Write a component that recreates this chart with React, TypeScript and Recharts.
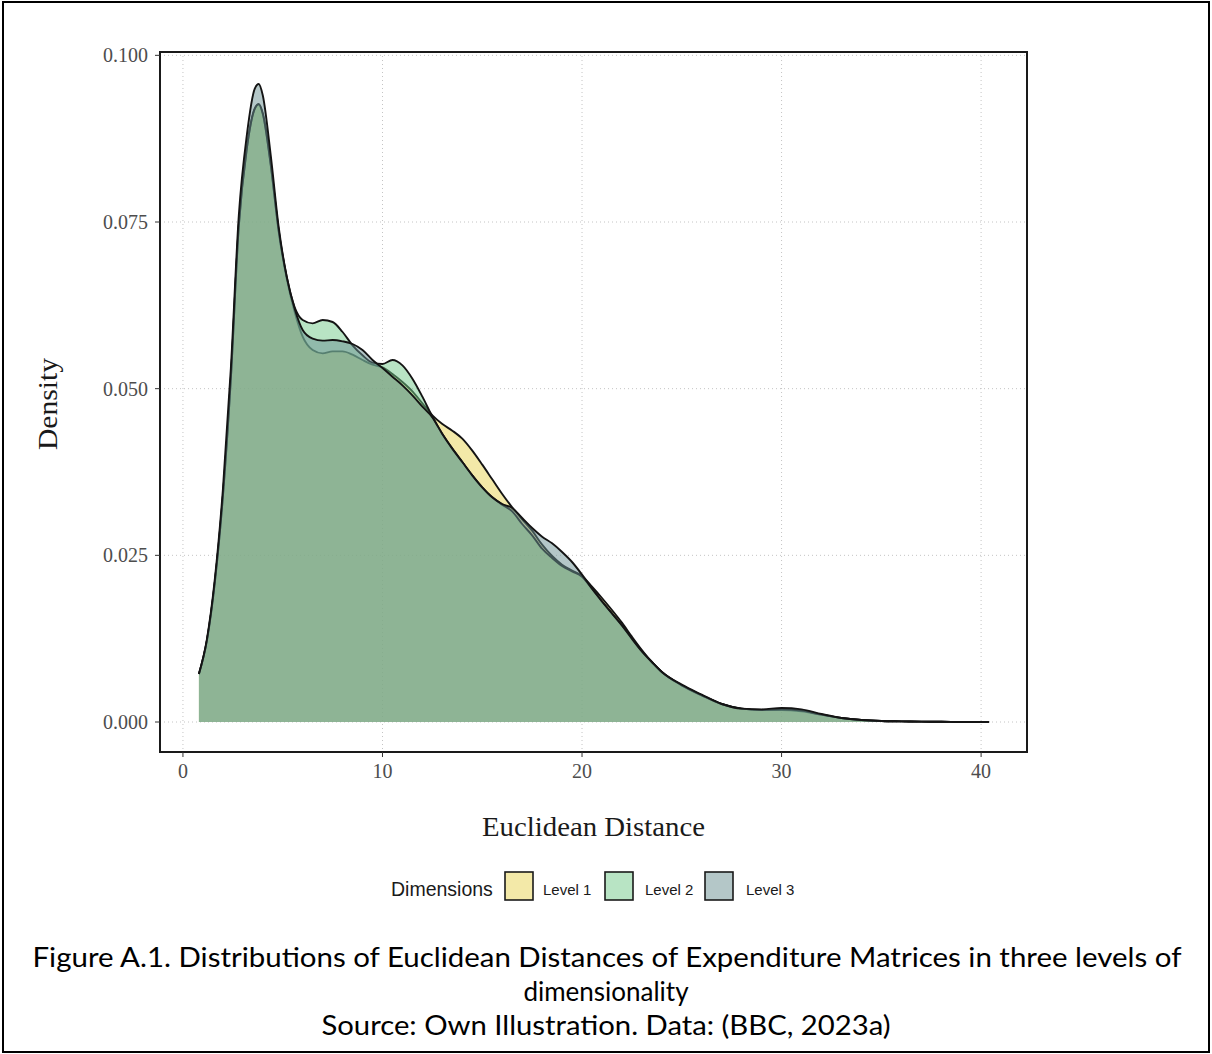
import React from "react";
import { AreaChart, Area, XAxis, YAxis, CartesianGrid, ReferenceArea } from "recharts";

// density estimates (x = Euclidean distance)
const distance = [
  0.8, 1.2, 1.6, 2.0, 2.4, 2.8, 3.2, 3.6, 3.8, 4.0,
  4.4, 4.8, 5.2, 5.6, 6.0, 6.5, 7.0, 7.5, 8.0, 8.5,
  9.0, 9.5, 10.0, 10.5, 11.0, 11.5, 12.0, 12.5, 13.0, 13.5,
  14.0, 14.5, 15.0, 15.5, 16.0, 16.5, 17.0, 17.5, 18.0, 18.5,
  19.0, 19.5, 20.0, 20.5, 21.0, 21.5, 22.0, 22.5, 23.0, 23.5,
  24, 25, 26, 27, 28, 29, 30, 31, 32, 33,
  34, 35, 36, 37, 38, 39, 40.4,
];

const level1 = [
  0.0072, 0.0122, 0.021, 0.0338, 0.0515, 0.0745, 0.086, 0.092, 0.0926, 0.0912,
  0.0835, 0.0735, 0.0665, 0.0615, 0.0578, 0.0558, 0.0553, 0.0556, 0.0556, 0.0551,
  0.0543, 0.0536, 0.0532, 0.0522, 0.051, 0.0496, 0.0478, 0.046, 0.0447, 0.0437,
  0.0425, 0.0407, 0.0386, 0.0364, 0.0342, 0.0322, 0.0304, 0.0287, 0.0266, 0.0249,
  0.0236, 0.0227, 0.0219, 0.0203, 0.0186, 0.0168, 0.0149, 0.0128, 0.0108, 0.009,
  0.0075, 0.0055, 0.004, 0.0027, 0.002, 0.0018, 0.0018, 0.0016, 0.0011, 0.0006,
  0.0003, 0.00015, 0.0001, 0.00005, 0.00003, 0.00001, 0,
];

const level2 = [
  0.0072, 0.0122, 0.021, 0.0338, 0.0515, 0.0745, 0.086, 0.092, 0.0927, 0.0913,
  0.0836, 0.0737, 0.0668, 0.0622, 0.0603, 0.0598, 0.0603, 0.06, 0.0585, 0.0565,
  0.055, 0.0539, 0.0537, 0.0543, 0.0535, 0.0515, 0.0488, 0.0458, 0.0432, 0.041,
  0.039, 0.037, 0.0352, 0.0337, 0.0326, 0.0316, 0.0297, 0.028, 0.026, 0.0246,
  0.0234, 0.0226, 0.0218, 0.02, 0.0181, 0.0163, 0.0145, 0.0125, 0.0106, 0.009,
  0.0075, 0.0055, 0.004, 0.0027, 0.002, 0.0018, 0.0019, 0.0017, 0.0011, 0.0006,
  0.0003, 0.00015, 0.0001, 0.00005, 0.00003, 0.00001, 0,
];

const level3 = [
  0.0072, 0.0124, 0.0215, 0.0348, 0.053, 0.076, 0.088, 0.095, 0.0957, 0.094,
  0.085, 0.0742, 0.0668, 0.062, 0.0588, 0.0575, 0.0572, 0.0573, 0.0571, 0.0567,
  0.0558, 0.0543, 0.0531, 0.0518, 0.0505, 0.049, 0.0473, 0.0457, 0.0432, 0.041,
  0.039, 0.037, 0.0352, 0.0337, 0.0327, 0.0321, 0.0306, 0.0291, 0.0278, 0.0268,
  0.0255, 0.024, 0.0221, 0.02, 0.0181, 0.0163, 0.0145, 0.0125, 0.0106, 0.009,
  0.0075, 0.0056, 0.0041, 0.0027, 0.002, 0.0019, 0.0021, 0.0019, 0.0012, 0.0006,
  0.0003, 0.00015, 0.0001, 0.00005, 0.00003, 0.00001, 0,
];

const levelNames = ["Level 1", "Level 2", "Level 3"];
const levelKeys = ["l1", "l2", "l3"];
const levelFills = ["#E7D351", "#71C989", "#698F91"];

const xTicks = [0, 10, 20, 30, 40];
const yTicks = [0, 0.025, 0.05, 0.075, 0.1];
const xDomain: [number, number] = [-1.15, 42.3];
const yDomain: [number, number] = [-0.0045, 0.1005];

const captionLines = [
  "Figure A.1. Distributions of Euclidean Distances of Expenditure Matrices in three levels of",
  "dimensionality",
  "Source: Own Illustration. Data: (BBC, 2023a)",
];

const data = distance.map((x, i) => ({ x, l1: level1[i], l2: level2[i], l3: level3[i] }));

const serif = "'Liberation Serif', 'DejaVu Serif', serif";
const sans = "'Liberation Sans', Arial, sans-serif";
const captionFont = "Lato, 'Open Sans', sans-serif";

export default function App() {
  return (
    <div style={{ position: "absolute", left: 0, top: 0, width: 1212, height: 1054, background: "#fff" }}>
      <AreaChart width={1212} height={1054} data={data} margin={{ top: 52, right: 185, bottom: 262, left: 90 }}>
        <CartesianGrid stroke="#c4c4c4" strokeDasharray="1 3" />
        <XAxis
          type="number"
          dataKey="x"
          domain={xDomain}
          ticks={xTicks}
          allowDataOverflow
          height={40}
          axisLine={false}
          stroke="#333"
          tickSize={5}
          tickMargin={7}
          tick={{ fill: "#4d4d4d", fontSize: 20, fontFamily: serif }}
        />
        <YAxis
          type="number"
          domain={yDomain}
          ticks={yTicks}
          allowDataOverflow
          width={70}
          axisLine={false}
          stroke="#333"
          tickSize={5}
          tickMargin={7}
          tickFormatter={(v: number) => v.toFixed(3)}
          tick={{ fill: "#4d4d4d", fontSize: 20, fontFamily: serif }}
        />
        {levelKeys.map((k, i) => (
          <Area
            key={k}
            type="monotone"
            dataKey={k}
            name={levelNames[i]}
            fill={levelFills[i]}
            fillOpacity={0.5}
            stroke="#141414"
            strokeWidth={1.9}
            dot={false}
            activeDot={false}
            isAnimationActive={false}
          />
        ))}
        <ReferenceArea
          x1={xDomain[0]}
          x2={xDomain[1]}
          y1={yDomain[0]}
          y2={yDomain[1]}
          fill="none"
          fillOpacity={0}
          stroke="#1a1a1a"
          strokeWidth={2}
          ifOverflow="visible"
        />
      </AreaChart>

      <svg width={1212} height={1054} style={{ position: "absolute", left: 0, top: 0, pointerEvents: "none" }}>
        <rect x={3} y={2} width={1206} height={1050} fill="none" stroke="#000" strokeWidth={2} />

        {/* axis titles */}
        <text x={593.5} y={836} textAnchor="middle" fontFamily={serif} fontSize={27} fill="#1a1a1a" textLength={223} lengthAdjust="spacingAndGlyphs">
          Euclidean Distance
        </text>
        <text transform="translate(57,404) rotate(-90)" textAnchor="middle" fontFamily={serif} fontSize={27} fill="#1a1a1a" textLength={92} lengthAdjust="spacingAndGlyphs">
          Density
        </text>

        {/* legend */}
        <text x={391} y={896} fontFamily={sans} fontSize={19.5} fill="#1a1a1a">Dimensions</text>
        {levelNames.map((name, i) => {
          const kx = [505, 605, 705][i];
          const lx = [543, 645, 746][i];
          return (
            <g key={name}>
              <rect x={kx} y={872} width={28} height={28} fill="#fff" />
              <rect x={kx} y={872} width={28} height={28} fill={levelFills[i]} fillOpacity={0.5} stroke="#1a1a1a" strokeWidth={1.6} />
              <text x={lx} y={895} fontFamily={sans} fontSize={15} fill="#1a1a1a">{name}</text>
            </g>
          );
        })}

        {/* caption */}
        <text x={607} y={967} textAnchor="middle" fontFamily={captionFont} fontSize={26} fill="#000" textLength={1149} lengthAdjust="spacingAndGlyphs">
          {captionLines[0]}
        </text>
        <text x={606} y={1001} textAnchor="middle" fontFamily={captionFont} fontSize={26} fill="#000">
          {captionLines[1]}
        </text>
        <text x={606} y={1035} textAnchor="middle" fontFamily={captionFont} fontSize={26} fill="#000" textLength={569} lengthAdjust="spacingAndGlyphs">
          {captionLines[2]}
        </text>
      </svg>
    </div>
  );
}
